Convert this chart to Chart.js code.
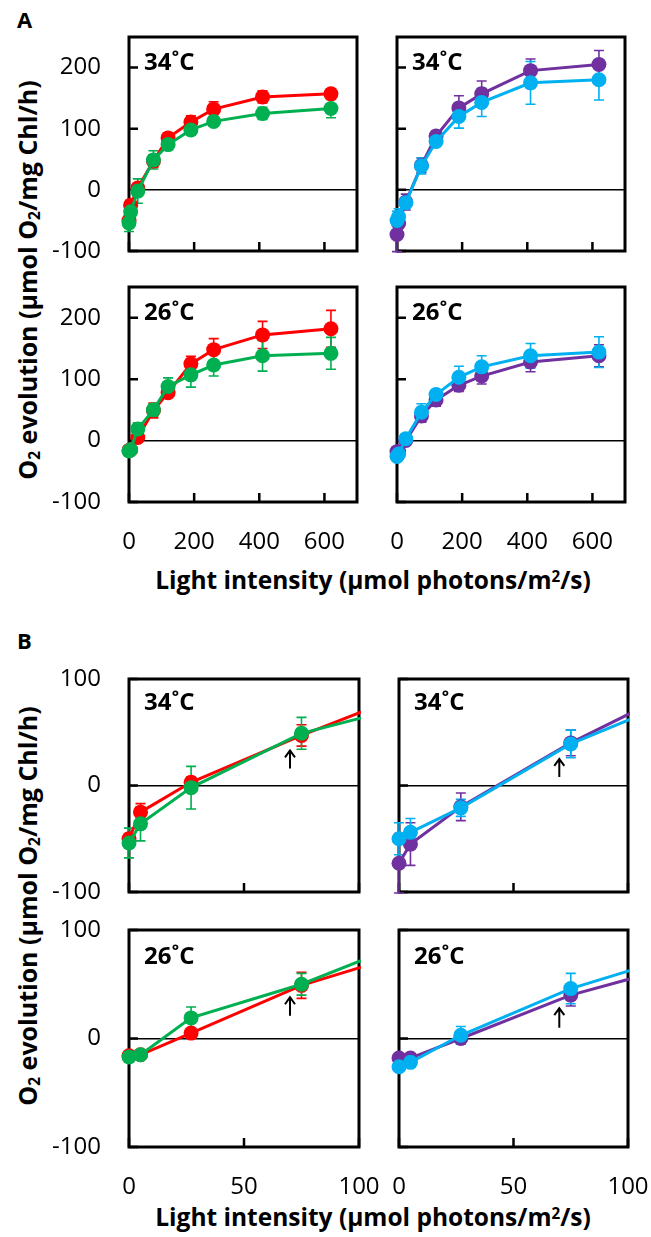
<!DOCTYPE html>
<html>
<head>
<meta charset="utf-8">
<script src="https://cdn.jsdelivr.net/npm/chart.js"></script>
<style>
  body { margin: 0; background: #fff; width: 651px; height: 1237px; position: relative; overflow: hidden; font-family: 'Open Sans', sans-serif; color: #000; }
  canvas { position: absolute; }
  .t { position: absolute; font-weight: bold; line-height: 1; white-space: nowrap; }
  .t sub { font-size: 62%; vertical-align: -0.2em; line-height: 0; }
  .t sup { font-size: 62%; vertical-align: 0.45em; line-height: 0; }
  .letter { font-size: 22px; }
  .temp { font-size: 24px; }
  .xtitle { font-size: 24.5px; transform: translate(-50%, -50%); }
  .ytitle { font-size: 25px; transform: translate(-50%, -50%) rotate(-90deg); }
</style>
</head>
<body>
<div class="t letter" style="left:17px;top:8px">A</div>
<div class="t letter" style="left:17px;top:629px">B</div>
<div class="t ytitle" style="left:27px;top:280px">O<sub>2</sub> evolution (μmol O<sub>2</sub>/mg Chl/h)</div>
<div class="t ytitle" style="left:27px;top:906px">O<sub>2</sub> evolution (μmol O<sub>2</sub>/mg Chl/h)</div>
<div class="t xtitle" style="left:373px;top:580px">Light intensity (μmol photons/m<sup>2</sup>/s)</div>
<div class="t xtitle" style="left:373px;top:1217px">Light intensity (μmol photons/m<sup>2</sup>/s)</div>
<script>
// light intensities (umol photons/m2/s)
const lightX = [0, 5, 27, 75, 120, 190, 260, 410, 620];

// 34 C
const red34 = [-50, -25, 3, 47, 85, 111, 132, 152, 157];
const red34Err = [5, 8, 5, 10, 8, 10, 12, 10, 8];
const green34 = [-54, -36, -2, 49, 74, 98, 112, 125, 133];
const green34Err = [14, 16, 20, 15, 8, 6, 6, 10, 15];
const purple34 = [-73, -55, -20, 40, 88, 134, 157, 195, 205];
const purple34Err = [28, 20, 13, 12, 8, 20, 21, 19, 23];
const cyan34 = [-50, -44, -21, 39, 79, 120, 143, 175, 180];
const cyan34Err = [15, 13, 8, 13, 8, 19, 23, 35, 33];

// 26 C
const red26 = [-16, -15, 5, 49, 78, 125, 148, 172, 182];
const red26Err = [4, 4, 4, 12, 8, 12, 18, 22, 30];
const green26 = [-17, -15, 19, 50, 88, 107, 123, 138, 142];
const green26Err = [4, 4, 10, 10, 14, 20, 18, 25, 26];
const purple26 = [-18, -18, 0, 40, 66, 90, 105, 128, 138];
const purple26Err = [4, 4, 5, 10, 10, 10, 13, 16, 18];
const cyan26 = [-26, -22, 3, 46, 75, 103, 120, 138, 144];
const cyan26Err = [4, 4, 8, 14, 8, 18, 18, 20, 25];

// axes
const xTicksA = [0, 200, 400, 600];
const yTicksA = [-100, 0, 100, 200];
const xTicksB = [0, 50, 100];
const yTicksB = [-100, 0, 100];

// arrows in panel B (x, tail, head) : 34 left, 34 right, 26 left, 26 right
const arrowX = 70;
const arrowTails = [16, 8, 21, 10];
const arrowHeads = [33, 25, 38, 28];

const RED = '#ff0000', GREEN = '#00b050', PURPLE = '#7030a0', CYAN = '#00b0f0';

Chart.defaults.font.family = "'Open Sans', sans-serif";
Chart.defaults.font.size = 24;
Chart.defaults.color = '#000';

const M = { left: 80, top: 14, right: 32, bottom: 64 };

function noPad(s) {
  s.paddingTop = 0; s.paddingBottom = 0; s.paddingLeft = 0; s.paddingRight = 0;
}

// box frame, inward ticks, error bars (under the points)
const frame = {
  id: 'frame',
  beforeDatasetsDraw(chart) {
    const { ctx, chartArea: a, scales: { x, y } } = chart;
    ctx.save();
    ctx.strokeStyle = '#000';
    ctx.lineWidth = 3;
    ctx.strokeRect(a.left, a.top, a.width, a.height);
    ctx.lineWidth = 2.5;
    ctx.beginPath();
    x.ticks.forEach(t => {
      const px = x.getPixelForValue(t.value);
      ctx.moveTo(px, a.bottom); ctx.lineTo(px, a.bottom - 9);
    });
    y.ticks.forEach(t => {
      const py = y.getPixelForValue(t.value);
      ctx.moveTo(a.left, py); ctx.lineTo(a.left + 9, py);
    });
    ctx.stroke();

    ctx.beginPath();
    ctx.rect(a.left - 14, a.top - 14, a.width + 16, a.height + 28);
    ctx.clip();
    ctx.lineWidth = 1.6;
    chart.data.datasets.forEach((ds, i) => {
      const meta = chart.getDatasetMeta(i);
      ctx.strokeStyle = ds.borderColor;
      ctx.beginPath();
      meta.data.forEach((pt, j) => {
        const v = ds.data[j].y, e = ds.errors[j];
        const y1 = y.getPixelForValue(v + e), y2 = y.getPixelForValue(v - e);
        ctx.moveTo(pt.x, y1); ctx.lineTo(pt.x, y2);
        ctx.moveTo(pt.x - 5, y1); ctx.lineTo(pt.x + 5, y1);
        ctx.moveTo(pt.x - 5, y2); ctx.lineTo(pt.x + 5, y2);
      });
      ctx.stroke();
    });
    ctx.restore();
  },
  afterDatasetsDraw(chart, args, opts) {
    if (opts.arrow == null) return;
    const { ctx, scales: { x, y } } = chart;
    const px = x.getPixelForValue(arrowX);
    const y0 = y.getPixelForValue(arrowTails[opts.arrow]);
    const y1 = y.getPixelForValue(arrowHeads[opts.arrow]);
    ctx.save();
    ctx.strokeStyle = '#000';
    ctx.lineWidth = 2;
    ctx.beginPath();
    ctx.moveTo(px, y0); ctx.lineTo(px, y1 + 1);
    ctx.moveTo(px - 5, y1 + 7); ctx.lineTo(px, y1); ctx.lineTo(px + 5, y1 + 7);
    ctx.stroke();
    ctx.restore();
  }
};

function makePanel(p) {
  const [l, t, r, b] = p.box;
  const w = (r - l) + M.left + M.right;
  const h = (b - t) + M.top + M.bottom;
  const cv = document.createElement('canvas');
  cv.width = w; cv.height = h;
  cv.style.left = (l - M.left) + 'px';
  cv.style.top = (t - M.top) + 'px';
  cv.style.width = w + 'px';
  cv.style.height = h + 'px';
  document.body.appendChild(cv);

  const temp = document.createElement('div');
  temp.className = 't temp';
  temp.textContent = p.temp;
  temp.style.left = (l + 15) + 'px';
  temp.style.top = (t + p.labelDy) + 'px';
  document.body.appendChild(temp);

  new Chart(cv, {
    type: 'scatter',
    data: {
      datasets: p.series.map((s, i) => ({
        data: lightX.map((x, j) => ({ x, y: s.values[j] })),
        errors: s.errors,
        showLine: true,
        borderColor: s.color,
        backgroundColor: s.color,
        borderWidth: 3,
        pointRadius: 7.5,
        pointBorderWidth: 0,
        pointHoverRadius: 7.5,
        order: p.series.length - i,
        clip: { left: 14, top: 14, right: 2, bottom: 14 }
      }))
    },
    options: {
      responsive: false,
      animation: false,
      events: [],
      layout: { padding: { left: 0, top: M.top, right: M.right, bottom: 0 } },
      plugins: { legend: { display: false }, tooltip: { enabled: false }, frame: { arrow: p.arrow } },
      scales: {
        x: {
          type: 'linear', min: 0, max: p.xMax,
          afterBuildTicks: s => { s.ticks = p.xTicks.map(v => ({ value: v })); },
          afterFit: s => { s.height = M.bottom; noPad(s); },
          ticks: { display: p.showX, padding: 26, maxRotation: 0, autoSkip: false },
          grid: { display: false, drawTicks: false },
          border: { display: false }
        },
        y: {
          min: p.yMin, max: p.yMax,
          afterBuildTicks: s => { s.ticks = p.yTicks.map(v => ({ value: v })); },
          afterFit: s => { s.width = M.left; noPad(s); },
          ticks: { display: p.showY, padding: 28 },
          grid: {
            drawTicks: false,
            lineWidth: 1.5,
            color: c => (c.tick && c.tick.value === 0 ? '#000' : 'rgba(0,0,0,0)')
          },
          border: { display: false }
        }
      }
    },
    plugins: [frame]
  });
}

const rg34 = [{ values: red34, errors: red34Err, color: RED }, { values: green34, errors: green34Err, color: GREEN }];
const pc34 = [{ values: purple34, errors: purple34Err, color: PURPLE }, { values: cyan34, errors: cyan34Err, color: CYAN }];
const rg26 = [{ values: red26, errors: red26Err, color: RED }, { values: green26, errors: green26Err, color: GREEN }];
const pc26 = [{ values: purple26, errors: purple26Err, color: PURPLE }, { values: cyan26, errors: cyan26Err, color: CYAN }];

const A = { xMax: 700, xTicks: xTicksA, yMin: -100, yMax: 250, yTicks: yTicksA };
const B = { xMax: 100, xTicks: xTicksB, yMin: -100, yMax: 100, yTicks: yTicksB };

// panel A
makePanel({ ...A, box: [129, 37, 357, 251], series: rg34, temp: '34˚C', labelDy: 12, showX: false, showY: true });
makePanel({ ...A, box: [397, 37, 625, 251], series: pc34, temp: '34˚C', labelDy: 12, showX: false, showY: false });
makePanel({ ...A, box: [129, 287, 357, 502], series: rg26, temp: '26˚C', labelDy: 12, showX: true, showY: true });
makePanel({ ...A, box: [397, 287, 625, 502], series: pc26, temp: '26˚C', labelDy: 12, showX: true, showY: false });
// panel B
makePanel({ ...B, box: [129, 679, 359, 892], series: rg34, temp: '34˚C', labelDy: 10, showX: false, showY: true, arrow: 0 });
makePanel({ ...B, box: [399, 679, 628, 892], series: pc34, temp: '34˚C', labelDy: 10, showX: false, showY: false, arrow: 1 });
makePanel({ ...B, box: [129, 930, 359, 1147], series: rg26, temp: '26˚C', labelDy: 13, showX: true, showY: true, arrow: 2 });
makePanel({ ...B, box: [399, 930, 628, 1147], series: pc26, temp: '26˚C', labelDy: 13, showX: true, showY: false, arrow: 3 });
</script>
</body>
</html>
